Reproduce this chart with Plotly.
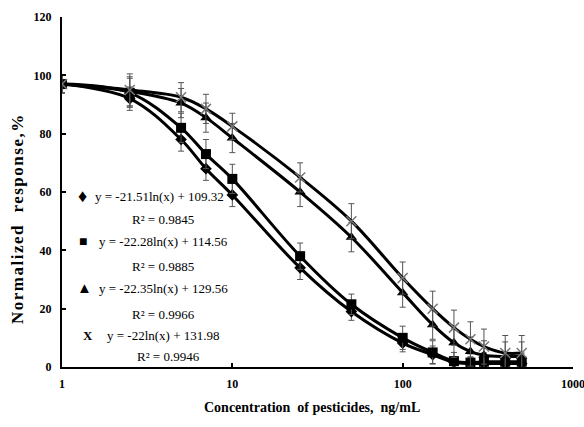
import plotly.graph_objects as go

# ---------------- data ----------------
conc = [1, 2.5, 5, 7, 10, 25, 50, 100, 150, 200, 250, 300, 400, 500]

diamond_vals = [97, 92, 78, 68, 59, 34, 19, 8.2, 4.2, 1.6, 1.2, 1.2, 1.2, 1.2]
square_vals = [97, 94, 82, 73, 64.5, 38, 21.5, 10, 5, 2, 1.5, 1.8, 1.8, 1.8]
triangle_vals = [97, 94.5, 90.5, 85.5, 78.5, 60, 44.5, 25.5, 14.5, 8.3, 5.3, 4, 3.6, 3.6]
x_vals = [97, 95, 92.5, 88.5, 82.5, 65, 50, 30.5, 20, 13.5, 9.5, 7, 4.8, 4.8]

diamond_err = [3, 4, 4, 4, 4, 4, 3, 3, 3, 2, 2, 2, 2, 2]
square_err = [3, 5, 5, 5, 5, 4.5, 3.5, 4, 4, 3, 3, 3, 3, 3]
triangle_err = [3, 5, 5, 5, 5, 5, 5, 5, 5, 5, 5, 5, 5, 5]
x_err = [3, 5.5, 5, 5, 4.5, 5, 6, 5.5, 6, 6, 6, 6, 6, 6]

eq_texts = ["y = -21.51ln(x) + 109.32", "y = -22.28ln(x) + 114.56",
            "y = -22.35ln(x) + 129.56", "y = -22ln(x) + 131.98"]
r2_texts = ["R² = 0.9845", "R² = 0.9885", "R² = 0.9966", "R² = 0.9946"]
legend_glyphs = ["♦", "■", "▲", "<b>X</b>"]

y_ticks = [0, 20, 40, 60, 80, 100, 120]
x_ticks = [1, 10, 100, 1000]

# ---------------- layout geometry ----------------
W, H = 584, 427
L, R, T, B = 62, 11, 17, 60
PW, PH = W - L - R, H - T - B

def pxx(p):
    return (p - L) / PW

def pxy(p):
    return (H - B - p) / PH

SERIF = "Liberation Serif, Times New Roman, serif"

fig = go.Figure()

series = [
    (diamond_vals, diamond_err, dict(symbol="diamond", size=9, color="black")),
    (square_vals, square_err, dict(symbol="square", size=10, color="black")),
    (triangle_vals, triangle_err, dict(symbol="triangle-up", size=10, color="black")),
    (x_vals, x_err, dict(symbol="x-thin-open", size=10, color="#777",
                         line=dict(color="#777", width=1.5))),
]

for vals, err, mk in series:
    fig.add_trace(go.Scatter(
        x=conc, y=vals, mode="lines+markers",
        line=dict(color="black", width=3, shape="spline", smoothing=1),
        marker=mk,
        error_y=dict(type="data", array=err, visible=True,
                     color="#555", thickness=1, width=3),
        showlegend=False, hoverinfo="skip",
    ))

# legend-like annotations
glyph_pos = [(82.7, 196), (83.3, 241.5), (84, 288), (88.3, 335.5)]
eq_pos = [(92.7, 196), (96.7, 241.5), (96.7, 288.5), (105, 335.5)]
r2_pos = [(163, 219.5), (163, 266), (163, 314), (168, 356)]
glyph_sizes = [18, 14, 15, 13]

for i in range(4):
    fig.add_annotation(x=pxx(glyph_pos[i][0]), y=pxy(glyph_pos[i][1]),
                       xref="paper", yref="paper", text=legend_glyphs[i],
                       showarrow=False, xanchor="center", yanchor="middle",
                       font=dict(family=SERIF, size=glyph_sizes[i], color="black"))
    fig.add_annotation(x=pxx(eq_pos[i][0]), y=pxy(eq_pos[i][1]),
                       xref="paper", yref="paper", text=eq_texts[i],
                       showarrow=False, xanchor="left", yanchor="middle",
                       font=dict(family=SERIF, size=13, color="black"))
    fig.add_annotation(x=pxx(r2_pos[i][0]), y=pxy(r2_pos[i][1]),
                       xref="paper", yref="paper", text=r2_texts[i],
                       showarrow=False, xanchor="center", yanchor="middle",
                       font=dict(family=SERIF, size=13, color="black"))

# axis titles
fig.add_annotation(x=pxx(17), y=pxy(219), xref="paper", yref="paper",
                   text='<b><span style="letter-spacing:1.5px">Normalized  response,%</span></b>',
                   textangle=-90, showarrow=False, xanchor="center", yanchor="middle",
                   font=dict(family=SERIF, size=17, color="black"))
fig.add_annotation(x=pxx(312), y=pxy(407), xref="paper", yref="paper",
                   text="<b>Concentration  of pesticides,  ng/mL</b>",
                   showarrow=False, xanchor="center", yanchor="middle",
                   font=dict(family=SERIF, size=14, color="black"))

fig.update_xaxes(type="log", range=[0, 3], tickvals=x_ticks,
                 ticktext=[f"<b>{v}</b>" for v in x_ticks],
                 showline=True, linecolor="black", linewidth=2,
                 ticks="inside", ticklen=4, tickwidth=1.5, tickcolor="black",
                 showgrid=False, zeroline=False, ticklabelstandoff=5,
                 ticklabeloverflow="allow", automargin=False,
                 tickfont=dict(family=SERIF, size=12, color="black"))
fig.update_yaxes(range=[0, 120], tickvals=y_ticks,
                 ticktext=[f"<b>{v}</b>" for v in y_ticks],
                 showline=True, linecolor="black", linewidth=2,
                 ticks="inside", ticklen=4, tickwidth=1.5, tickcolor="black",
                 showgrid=False, zeroline=False, ticklabelstandoff=6,
                 ticklabeloverflow="allow", automargin=False,
                 tickfont=dict(family=SERIF, size=12, color="black"))

fig.update_layout(width=W, height=H, margin=dict(l=L, r=R, t=T, b=B, autoexpand=False),
                  paper_bgcolor="white", plot_bgcolor="white", showlegend=False)

fig.write_html("out.html", config={"displayModeBar": False},
               post_script="document.body.style.margin='0';document.body.style.overflow='hidden';")
